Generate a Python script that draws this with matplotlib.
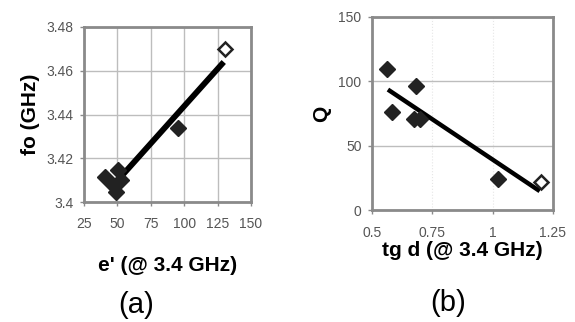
import matplotlib
matplotlib.use("Agg")
import matplotlib.pyplot as plt

plt.rcParams['font.family'] = ['Liberation Sans', 'DejaVu Sans']

# Panel (a) data
a_x = [40.5, 46.7, 49.0, 50.4, 52.9, 95.0]
a_y = [3.4116, 3.4078, 3.4047, 3.4146, 3.4100, 3.4340]
a_open_x = [130.5]
a_open_y = [3.4700]
a_trend_x = [46.0, 129.6]
a_trend_y = [3.4070, 3.4640]
a_xticks = [25, 50, 75, 100, 125, 150]
a_yticks = [3.40, 3.42, 3.44, 3.46, 3.48]
a_yticklabels = ['3.4', '3.42', '3.44', '3.46', '3.48']

# Panel (b) data
b_x = [0.562, 0.583, 0.683, 0.675, 0.700, 1.021]
b_y = [109.5, 76.0, 96.5, 70.5, 71.0, 24.0]
b_open_x = [1.202]
b_open_y = [22.0]
b_trend_x = [0.566, 1.195]
b_trend_y = [93.6, 14.7]
b_xticks = [0.5, 0.75, 1.0, 1.25]
b_xticklabels = ['0.5', '0.75', '1', '1.25']
b_yticks = [0, 50, 100, 150]

W, H = 575, 322
fig = plt.figure(figsize=(W / 100, H / 100), dpi=100)

def ax_px(l, t, r, b):
    return fig.add_axes([l / W, 1 - b / H, (r - l) / W, (b - t) / H])

frame_col = '#8a8a8a'
grid_col = '#bdbdbd'
tick_col = '#555555'

# ---- panel (a)
ax1 = ax_px(84, 27, 251, 202)
ax1.set_xlim(25, 150)
ax1.set_ylim(3.40, 3.48)
ax1.set_xticks(a_xticks)
ax1.set_yticks(a_yticks)
ax1.set_yticklabels(a_yticklabels)
ax1.grid(True, color=grid_col, linewidth=1.0)
ax1.set_axisbelow(True)
ax1.plot(a_trend_x, a_trend_y, color='black', linewidth=4.2, solid_capstyle='butt', zorder=3)
ax1.plot(a_x, a_y, linestyle='none', marker='D', markersize=8.2, color='#222222', zorder=4)
ax1.plot(a_open_x, a_open_y, linestyle='none', marker='D', markersize=7.5,
         markerfacecolor='white', markeredgecolor='#222222', markeredgewidth=1.8, zorder=5)
ax1.set_xlabel("e' (@ 3.4 GHz)", fontsize=15, fontweight='bold', labelpad=17.5)
ax1.set_ylabel("fo (GHz)", fontsize=15, fontweight='bold', labelpad=5)
ax1.text(0.31, -0.59, '(a)', transform=ax1.transAxes, fontsize=21, ha='center', va='center')

# ---- panel (b)
ax2 = ax_px(372, 17, 553, 210)
ax2.set_xlim(0.5, 1.25)
ax2.set_ylim(0, 150)
ax2.set_xticks(b_xticks)
ax2.set_xticklabels(b_xticklabels)
ax2.set_yticks(b_yticks)
ax2.yaxis.grid(True, color=grid_col, linewidth=1.0)
ax2.xaxis.grid(True, color='#e6e6e6', linewidth=0.8, linestyle=':')
ax2.set_axisbelow(True)
ax2.plot(b_trend_x, b_trend_y, color='black', linewidth=3.2, solid_capstyle='butt', zorder=3)
ax2.plot(b_x, b_y, linestyle='none', marker='D', markersize=8.2, color='#222222', zorder=4)
ax2.plot(b_open_x, b_open_y, linestyle='none', marker='D', markersize=7.5,
         markerfacecolor='white', markeredgecolor='#222222', markeredgewidth=1.8, zorder=5)
ax2.set_xlabel("tg d (@ 3.4 GHz)", fontsize=15, fontweight='bold', labelpad=1.0)
ax2.set_ylabel("Q", fontsize=15, fontweight='bold', labelpad=5)
ax2.text(0.42, -0.48, '(b)', transform=ax2.transAxes, fontsize=21, ha='center', va='center')

for ax in (ax1, ax2):
    for s in ax.spines.values():
        s.set_color(frame_col)
        s.set_linewidth(2.0)
    ax.tick_params(axis='both', colors=frame_col, labelcolor=tick_col, labelsize=10,
                   length=3, width=1.0, direction='out')
    ax.tick_params(axis='y', pad=4.5)
ax1.tick_params(axis='x', pad=8.0)
ax2.tick_params(axis='x', pad=8.5)

fig.savefig('out.png', dpi=100)
